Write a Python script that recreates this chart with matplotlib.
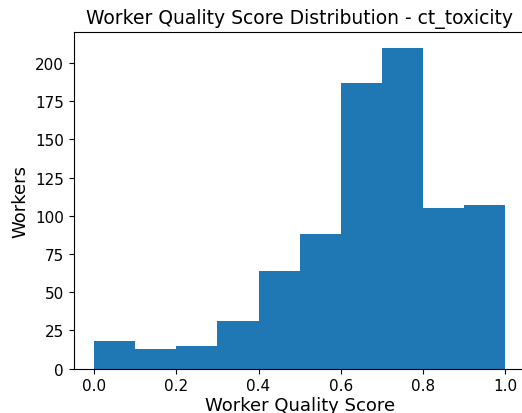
import numpy as np
import matplotlib
matplotlib.use("Agg")
import matplotlib.pyplot as plt

# bin counts
bin_edges = [0.0, 0.1, 0.2, 0.3, 0.4, 0.5, 0.6, 0.7, 0.8, 0.9, 1.0]
counts = [18, 13, 15, 31, 64, 88, 187, 210, 105, 107]

fig = plt.figure(figsize=(5.22, 4.14), dpi=100)
ax = fig.add_subplot(111)
fig.subplots_adjust(left=0.141, right=1.007, top=0.921, bottom=0.107)

ax.hist(bin_edges[:-1], bins=bin_edges, weights=counts, color="#1f77b4")
ax.set_title("Worker Quality Score Distribution - ct_toxicity", fontsize=13.5)
ax.set_xlabel("Worker Quality Score", fontsize=13, labelpad=2)
ax.set_ylabel("Workers", fontsize=13)
ax.tick_params(labelsize=11)

fig.savefig("out.png", dpi=100)
